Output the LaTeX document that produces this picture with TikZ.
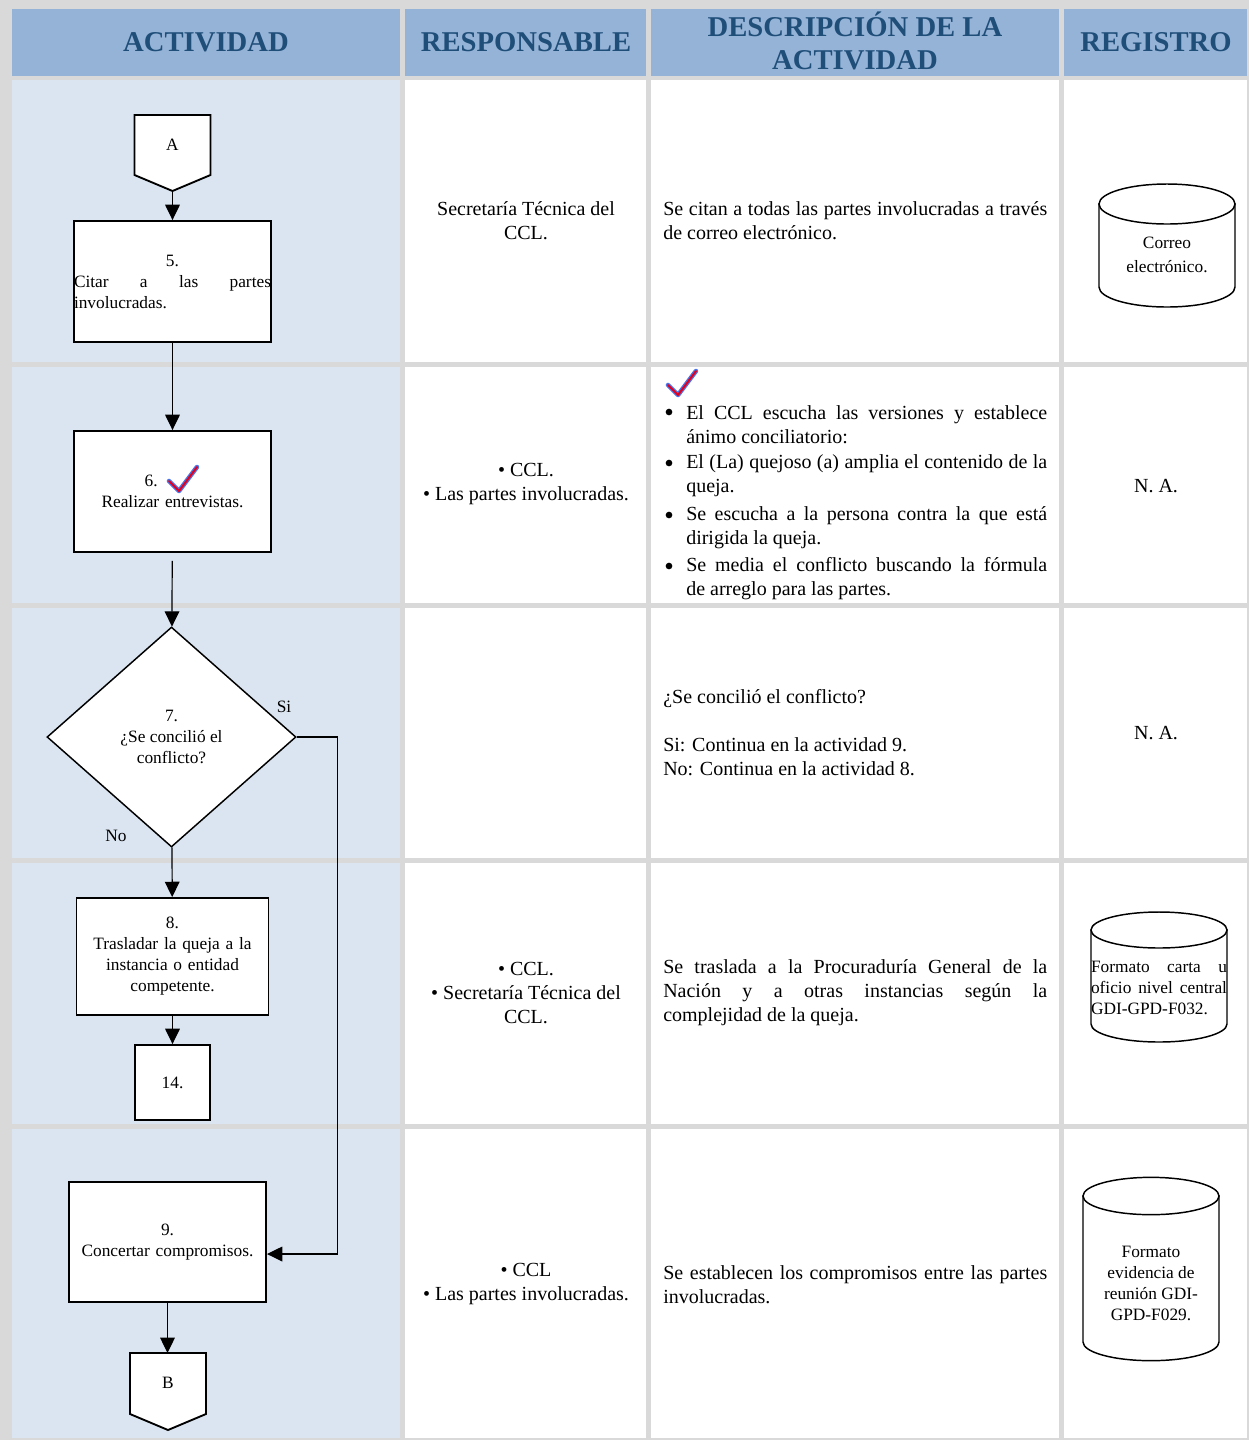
\documentclass[tikz,border=0pt]{standalone}
\usepackage{fontspec}
\setmainfont{Liberation Serif}
\usetikzlibrary{shapes.geometric,arrows.meta}
\setlength{\parindent}{0pt}

\definecolor{gridgray}{HTML}{D9D9D9}
\definecolor{headblue}{HTML}{95B3D7}
\definecolor{headtext}{HTML}{1F4E79}
\definecolor{lanefill}{HTML}{DBE5F1}
\definecolor{tickred}{HTML}{E3001B}
\definecolor{tickblue}{HTML}{4A74E8}

\tikzset{
  head/.style={font=\bfseries\fontsize{21.5}{24.75}\selectfont, text=headtext, align=center},
  body/.style={font=\fontsize{15}{18}\selectfont, inner sep=0pt},
  small/.style={font=\fontsize{13}{15.75}\selectfont, inner sep=0pt},
  box/.style={draw, line width=1.4pt, fill=white, font=\fontsize{13}{15.75}\selectfont},
  flow/.style={line width=0.9pt, -{Triangle[length=11.5pt,width=11pt]}},
  drum/.style={draw, line width=1.1pt, fill=white},
}

\begin{document}
\begin{tikzpicture}[x=0.75pt, y=-0.75pt]

    \useasboundingbox (0,0) rectangle (1249,1440);
    \fill[gridgray] (0,0) rectangle (1249,1440);

    % celdas
    \foreach \xa/\xb in {12/400,405/646,651/1059,1064/1247}
    \fill[headblue] (\xa,9) rectangle (\xb,76);

    \foreach \ya/\yb in {80/362,367/603,608/858,863/1124,1129/1438} {
      \fill[lanefill] (12,\ya) rectangle (400,\yb);
      \fill[white] (405,\ya) rectangle (646,\yb);
      \fill[white] (651,\ya) rectangle (1059,\yb);
      \fill[white] (1064,\ya) rectangle (1247,\yb);
    }

    \node[head] (hAct) at (206,42) {ACTIVIDAD};
    \node[head] (hResp) at (526,42) {RESPONSABLE};
    \node[head] (hDesc) at (855,41) {DESCRIPCIÓN DE LA\\ACTIVIDAD};
    \node[head] (hReg) at (1156,42) {REGISTRO};

    % diagrama de flujo
    \draw[box] (134.5,115) -- (210.5,115) -- (210.5,175) -- (172.5,191) coordinate (Atip)
        -- (134.5,175) -- cycle;
    \node[small] (A) at (172.5,145) {A};

    \node[box, inner xsep=0pt, text width=147.75pt, minimum height=90.75pt, align=justify]
        (b5) at (172.5,281.5) {\hfill 5.\hfill\null\linebreak Citar a las partes\linebreak involucradas.};
    \node[box, text width=140pt, inner xsep=3.875pt, minimum height=90.75pt, align=center]
        (b6) at (172.5,491.5) {6.\hspace*{32pt}\null\\Realizar entrevistas.};
    \node[diamond, draw, line width=1.1pt, fill=white, inner sep=0pt, minimum width=186.75pt,
        minimum height=165pt, font=\fontsize{13}{15.75}\selectfont, align=center]
        (d7) at (171.5,737) {7.\\¿Se concilió el\\conflicto?};
    \node[box, text width=136pt, inner xsep=4pt, minimum height=87.75pt, align=center]
        (b8) at (172.5,956.5) {8.\\Trasladar la queja a la\\instancia o entidad\\competente.};
    \node[box, minimum width=56.25pt, minimum height=56.25pt] (b14) at (172.5,1082.5) {14.};
    \node[box, text width=140pt, inner xsep=3.875pt, minimum height=90pt, align=center]
        (b9) at (167.5,1242) {9.\\Concertar compromisos.};
    \draw[box] (130,1353) coordinate (Btop) -- (206,1353) -- (206,1414) -- (168,1430)
        -- (130,1414) -- cycle;
    \node[small] (B) at (168,1383) {B};

    \node[small] (lblSi) at (284,707) {Si};
    \node[small] (lblNo) at (116,836) {No};

    \draw[flow] (Atip) -- (Atip |- b5.north);
    \draw[flow] (b5) -- (b6);
    \draw[flow, shorten <=6pt] (b6) -- (d7);
    \draw[flow] (d7) -- (b8);
    \draw[flow] (b8) -- (b14);
    \draw[flow] (d7.east) -- ++(41,0) coordinate (siTurn) |- ([yshift=-9pt]b9.east);
    \draw[flow] (b9.south) -- (b9.south |- Btop);

    % marcas de verificacion
    \foreach \tx/\ty in {169/481,668/385} {
      \draw[tickblue, line width=3.4pt, line cap=round, line join=round] (\tx,\ty) -- ++(10,10) -- ++(18,-24);
      \draw[tickred, line width=1.5pt, line cap=round, line join=round] (\tx,\ty) -- ++(10,10) -- ++(18,-24);
    }

    % responsables
    \node[body, align=center] (r1) at (526,221) {Secretaría Técnica del\\CCL.};
    \node[body, align=center] (r2) at (526,484) {\textbullet\ CCL.\\\textbullet\ Las partes involucradas.};
    \node[body, align=center] (r4) at (526,993) {\textbullet\ CCL.\\\textbullet\ Secretaría Técnica del\\CCL.};
    \node[body, align=center] (r5) at (526,1284) {\textbullet\ CCL\\\textbullet\ Las partes involucradas.};

    % descripciones
    \node[body, anchor=west, text width=288pt, align=justify] (d1) at (663,221)
        {Se citan a todas las partes involucradas a través\linebreak de correo electrónico.};
    \foreach \yy/\nm/\txt in {425/i1/{El CCL escucha las versiones y establece\linebreak ánimo conciliatorio:},
        476/i2/{El (La) quejoso (a) amplia el contenido de la\linebreak queja.},
        528/i3/{Se escucha a la persona contra la que está\linebreak dirigida la queja.},
        579/i4/{Se media el conflicto buscando la fórmula\linebreak de arreglo para las partes.}} {
      \node[body, anchor=west, text width=270.75pt, align=justify] (\nm) at (686,\yy) {\txt};
      \fill (669,\yy-13) circle (2.5pt);
    }
    \node[body, anchor=west, align=left] (d3) at (663,733)
        {¿Se concilió el conflicto?\\[18pt]Si: Continua en la actividad 9.\\No: Continua en la actividad 8.};
    \node[body, anchor=west, text width=288pt, align=justify] (d4) at (663,993)
        {Se traslada a la Procuraduría General de la\linebreak Nación y a otras instancias según la\linebreak complejidad de la queja.};
    \node[body, anchor=west, text width=288pt, align=justify] (d5) at (663,1285)
        {Se establecen los compromisos entre las partes\linebreak involucradas.};

    % registros
    \foreach \cx/\yt/\yb/\ry in {1167/204/287/15, 1159/930/1024/13.5, 1151/1196/1342/14} {
      \draw[drum] (\cx-68,\yt) -- (\cx-68,\yb) arc[start angle=180, end angle=360, x radius=51pt, y radius=\ry*1pt]
          -- (\cx+68,\yt) -- cycle;
      \draw[drum] (\cx,\yt) ellipse [x radius=51pt, y radius=\ry*1pt];
    }
    \node[small, align=center, font=\fontsize{13}{18}\selectfont] (g1) at (1167,255) {Correo\\electrónico.};
    \node[body] (g2) at (1156,486) {N. A.};
    \node[body] (g3) at (1156,733) {N. A.};
    \node[small, text width=102pt, align=justify] (g4) at (1159,988)
        {Formato carta u\linebreak oficio nivel central\linebreak GDI-GPD-F032.};
    \node[small, align=center] (g5) at (1151,1283) {Formato\\evidencia de\\reunión GDI-\\GPD-F029.};

\end{tikzpicture}
\end{document}
